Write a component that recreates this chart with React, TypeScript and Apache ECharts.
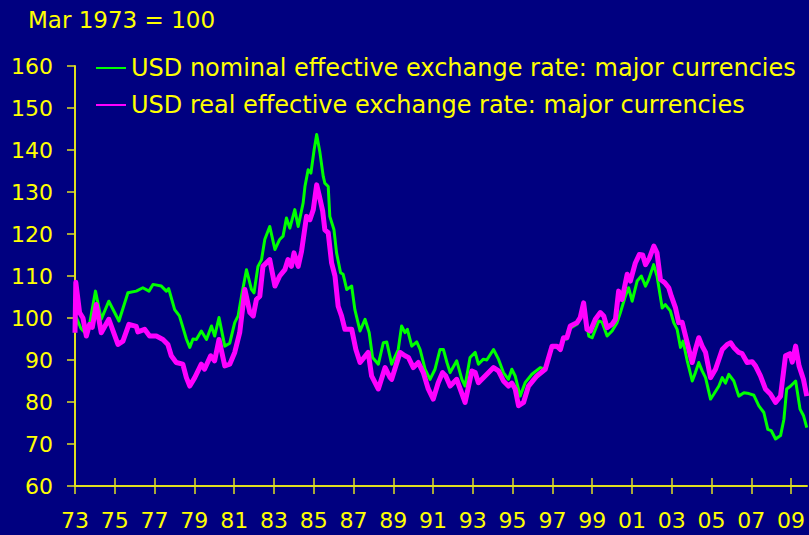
import React, { useEffect, useRef } from "react";
import * as echarts from "echarts";

const titleText = "Mar 1973 = 100";
const nominalName = "USD nominal effective exchange rate: major currencies";
const realName = "USD real effective exchange rate: major currencies";

const xTickYears = [1973, 1975, 1977, 1979, 1981, 1983, 1985, 1987, 1989, 1991, 1993, 1995, 1997, 1999, 2001, 2003, 2005, 2007, 2009];
const yMin = 60;
const yMax = 160;
const yStep = 10;

// [year, index]
const nominal: [number, number][] = [
  [1973.0, 96.5], [1973.08, 100], [1973.3, 97.5], [1973.5, 96.5], [1973.73, 98.5],
  [1974.03, 106.4], [1974.32, 99.7], [1974.7, 104], [1975.21, 99.3], [1975.66, 106],
  [1976.08, 106.4], [1976.41, 107.2], [1976.72, 106.4], [1976.92, 108], [1977.34, 107.6],
  [1977.59, 106.4], [1977.71, 107], [1978.01, 102], [1978.25, 100.5], [1978.6, 95],
  [1978.77, 93], [1978.93, 95], [1979.1, 94.9], [1979.35, 96.9], [1979.61, 94.9],
  [1979.86, 98.1], [1980.02, 95.7], [1980.24, 100.1], [1980.53, 93.3], [1980.78, 94],
  [1981.03, 98.9], [1981.2, 100.5], [1981.37, 105.2], [1981.62, 111.5], [1981.87, 106.8],
  [1982.0, 106], [1982.2, 112.3], [1982.38, 113.9], [1982.54, 118.7], [1982.79, 121.8],
  [1983.05, 116.3], [1983.29, 118.7], [1983.46, 119.5], [1983.63, 123.8], [1983.8, 121.4],
  [1984.05, 125.8], [1984.22, 121.8], [1984.47, 127.4], [1984.56, 131.3], [1984.72, 135.3],
  [1984.86, 134.5], [1985.02, 140], [1985.15, 143.7], [1985.31, 139.5], [1985.48, 133.7],
  [1985.56, 132.1], [1985.73, 131.3], [1985.81, 124.2], [1986.02, 121], [1986.15, 115.5],
  [1986.35, 110.8], [1986.48, 110.4], [1986.66, 106.8], [1986.91, 107.6], [1987.07, 102],
  [1987.33, 96.9], [1987.58, 99.7], [1987.79, 96.5], [1987.96, 90.6], [1988.25, 89],
  [1988.5, 94.1], [1988.67, 94.3], [1988.92, 89], [1989.25, 92.5], [1989.42, 98.1],
  [1989.59, 96.5], [1989.71, 97.3], [1989.93, 93.3], [1990.18, 94.3], [1990.35, 92.5],
  [1990.6, 87.8], [1990.85, 85.4], [1991.1, 87.8], [1991.35, 92.5], [1991.52, 92.5],
  [1991.7, 89.4], [1991.86, 87], [1992.19, 89.8], [1992.45, 85.4], [1992.61, 83.8],
  [1992.86, 90.6], [1993.12, 91.8], [1993.28, 89], [1993.53, 90.2], [1993.7, 90],
  [1994.04, 92.5], [1994.29, 90.2], [1994.54, 87], [1994.79, 85.4], [1994.96, 87.8],
  [1995.13, 86.2], [1995.38, 81.4], [1995.63, 84.6], [1995.97, 86.6], [1996.39, 88.2],
  [1996.64, 87.8], [1996.98, 93], [1997.23, 93.1], [1997.4, 92.3], [1997.56, 95],
  [1997.73, 95], [1997.9, 97.6], [1998.24, 98.5], [1998.57, 102.5], [1998.83, 95.7],
  [1999.0, 95.3], [1999.33, 99.3], [1999.5, 99], [1999.75, 95.7], [2000.0, 96.9],
  [2000.25, 98.9], [2000.42, 101.3], [2000.67, 105.2], [2000.83, 107.2], [2001.01, 104],
  [2001.26, 108.8], [2001.47, 110], [2001.68, 107.6], [2001.84, 109.2], [2002.09, 112.7],
  [2002.26, 110], [2002.52, 102.4], [2002.68, 103.2], [2002.93, 101.7], [2003.1, 98.9],
  [2003.27, 97.3], [2003.44, 93], [2003.57, 94.5], [2003.78, 89.8], [2004.03, 85],
  [2004.19, 87], [2004.36, 89.4], [2004.53, 87.4], [2004.7, 85.8], [2004.95, 80.7],
  [2005.12, 81.9], [2005.37, 83.8], [2005.54, 85.8], [2005.7, 84.5], [2005.87, 86.6],
  [2006.12, 85], [2006.37, 81.4], [2006.63, 82.2], [2006.88, 82], [2007.13, 81.6],
  [2007.38, 79.1], [2007.63, 77.5], [2007.83, 73.5], [2008.0, 73.2], [2008.22, 71.2],
  [2008.47, 72], [2008.64, 75.9], [2008.78, 83.1], [2008.98, 83.8], [2009.23, 85],
  [2009.45, 78.3], [2009.62, 76.8], [2009.79, 73.9],
];

const real: [number, number][] = [
  [1973.0, 96.5], [1973.04, 108.5], [1973.23, 101.3], [1973.4, 100], [1973.57, 95.7],
  [1973.73, 98.5], [1973.87, 97.8], [1974.07, 103.2], [1974.32, 96.5], [1974.7, 99.7],
  [1975.16, 93.7], [1975.41, 94.5], [1975.71, 98.5], [1976.08, 98], [1976.16, 96.7],
  [1976.5, 97.3], [1976.75, 95.7], [1977.09, 95.7], [1977.42, 94.9], [1977.67, 93.7],
  [1977.84, 91], [1978.09, 89.4], [1978.42, 89], [1978.6, 85.8], [1978.77, 83.8],
  [1979.02, 85.8], [1979.35, 89], [1979.51, 87.8], [1979.82, 91], [1980.02, 89.8],
  [1980.24, 94.9], [1980.53, 88.6], [1980.78, 89], [1981.03, 91.8], [1981.28, 96.5],
  [1981.54, 106.8], [1981.79, 101.3], [1981.96, 100.5], [1982.12, 104.4], [1982.29, 105.2],
  [1982.45, 112.3], [1982.79, 113.9], [1983.05, 107.6], [1983.29, 110], [1983.55, 111.5],
  [1983.71, 113.9], [1983.88, 112.3], [1984.01, 115.5], [1984.22, 112.3], [1984.39, 115.9],
  [1984.64, 124.2], [1984.81, 123.4], [1984.98, 125.8], [1985.15, 131.7], [1985.27, 129.3],
  [1985.45, 125.5], [1985.56, 121], [1985.73, 120.3], [1985.9, 113.1], [1986.07, 110],
  [1986.23, 102.8], [1986.4, 100.5], [1986.57, 97.3], [1986.91, 97.3], [1987.12, 92.5],
  [1987.33, 89.4], [1987.74, 91.8], [1987.91, 86.2], [1988.25, 83.1], [1988.59, 88.2],
  [1988.84, 85.8], [1988.92, 85.4], [1989.34, 91.8], [1989.59, 91], [1989.76, 90.6],
  [1990.01, 88.2], [1990.26, 89.4], [1990.51, 87], [1990.76, 83.1], [1991.01, 80.7],
  [1991.26, 84.6], [1991.48, 87], [1991.64, 86.2], [1991.86, 83.8], [1992.19, 85.4],
  [1992.61, 79.9], [1992.95, 87.4], [1993.12, 87], [1993.28, 84.6], [1993.53, 85.8],
  [1994.04, 88.2], [1994.29, 87.4], [1994.54, 85], [1994.79, 83.8], [1994.96, 84.5],
  [1995.13, 83.1], [1995.3, 79.1], [1995.55, 79.9], [1995.8, 83.8], [1996.22, 86.2],
  [1996.64, 87.8], [1996.98, 93.3], [1997.23, 93.3], [1997.4, 92.5], [1997.56, 95.3],
  [1997.73, 95.3], [1997.9, 98.1], [1998.24, 98.9], [1998.4, 100.1], [1998.57, 103.6],
  [1998.74, 97.3], [1998.91, 96.9], [1999.16, 99.7], [1999.41, 101.3], [1999.58, 100.5],
  [1999.75, 97.7], [2000.0, 98.5], [2000.17, 99.7], [2000.33, 106.4], [2000.5, 104.4],
  [2000.76, 110.4], [2000.92, 108.8], [2001.17, 113.1], [2001.37, 115.1], [2001.54, 115],
  [2001.68, 112.7], [2001.88, 114.3], [2002.1, 117.1], [2002.26, 115.5], [2002.43, 109.2],
  [2002.65, 108.4], [2002.85, 107.2], [2002.98, 105.2], [2003.19, 102.4], [2003.35, 98.9],
  [2003.52, 99], [2003.78, 94.1], [2004.03, 89.4], [2004.19, 92.5], [2004.36, 95.3],
  [2004.53, 93.3], [2004.7, 91.8], [2004.95, 85.8], [2005.2, 87.8], [2005.54, 92.5],
  [2005.79, 93.7], [2005.96, 94.1], [2006.12, 93], [2006.37, 91.8], [2006.54, 91.5],
  [2006.79, 89.4], [2007.04, 89.6], [2007.21, 88.6], [2007.46, 86.2], [2007.71, 83.1],
  [2007.96, 81.9], [2008.22, 79.9], [2008.47, 81.4], [2008.72, 91], [2008.94, 91.5],
  [2009.06, 89.5], [2009.23, 93.3], [2009.4, 88.6], [2009.62, 85.4], [2009.79, 81.4],
];

const BG = "#000080";
const YELLOW = "#ffff00";
const AXIS = "#e0e020";
const FONT = "DejaVu Sans";

export default function App() {
  const ref = useRef<HTMLDivElement>(null);

  useEffect(() => {
    if (!ref.current) return;
    const chart = echarts.init(ref.current, null, { renderer: "svg" });
    const fmt = (v: number) => String(Math.round(v) % 100).padStart(2, "0");
    chart.setOption({
      animation: false,
      backgroundColor: BG,
      title: {
        text: titleText,
        left: 28,
        top: 7,
        padding: 0,
        textStyle: { color: YELLOW, fontFamily: FONT, fontSize: 23, fontWeight: "normal", lineHeight: 26 },
      },
      legend: {
        orient: "vertical",
        left: 95,
        top: 54,
        padding: 0,
        itemWidth: 30,
        itemHeight: 14,
        itemGap: 9,
        itemStyle: { opacity: 0 },
        data: [nominalName, realName],
        textStyle: { color: YELLOW, fontFamily: FONT, fontSize: 24, lineHeight: 28 },
      },
      grid: { left: 75, right: 2, top: 66, bottom: 49, containLabel: false },
      xAxis: [
        {
          type: "value",
          min: 1973,
          max: 2009.8,
          position: "bottom",
          splitLine: { show: false },
          axisLine: { show: true, lineStyle: { color: AXIS, width: 2 } },
          axisTick: { show: true, length: 8, lineStyle: { color: AXIS, width: 1.5 }, customValues: xTickYears },
          axisLabel: {
            color: YELLOW,
            fontFamily: FONT,
            fontSize: 22,
            margin: 23,
            customValues: xTickYears,
            formatter: fmt,
          },
        },
        {
          type: "value",
          min: 1973,
          max: 2009.8,
          position: "bottom",
          splitLine: { show: false },
          axisLine: { show: false },
          axisTick: { show: true, inside: true, length: 8, lineStyle: { color: AXIS, width: 1.5 }, customValues: xTickYears },
          axisLabel: { show: false },
        },
      ],
      yAxis: {
        type: "value",
        min: yMin,
        max: yMax,
        interval: yStep,
        splitLine: { show: false },
        axisLine: { show: true, lineStyle: { color: AXIS, width: 2 } },
        axisTick: { show: true, length: 8, lineStyle: { color: AXIS, width: 1.5 } },
        axisLabel: { color: YELLOW, fontFamily: FONT, fontSize: 22, margin: 22 },
      },
      series: [
        {
          name: nominalName,
          type: "line",
          data: nominal,
          symbol: "none",
          showSymbol: false,
          lineStyle: { color: "#00ff00", width: 3, join: "round" },
          itemStyle: { color: "#00ff00" },
        },
        {
          name: realName,
          type: "line",
          data: real,
          symbol: "none",
          showSymbol: false,
          lineStyle: { color: "#ff00ff", width: 5, join: "round" },
          itemStyle: { color: "#ff00ff" },
        },
      ],
    });
    return () => chart.dispose();
  }, []);

  return (
    <div
      ref={ref}
      style={{ position: "fixed", left: 0, top: 0, width: 809, height: 535 }}
    />
  );
}
